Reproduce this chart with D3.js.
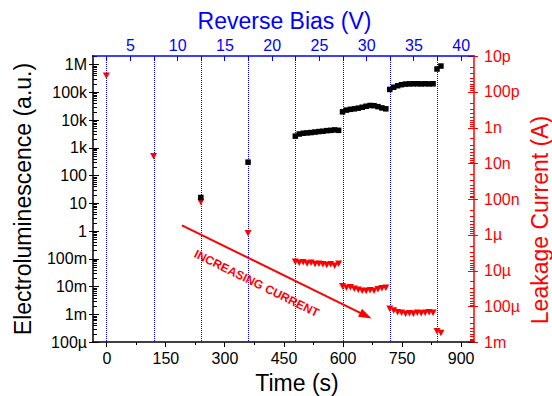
<!DOCTYPE html>
<html lang="en">
<head>
  <meta charset="UTF-8">
  <title>Electroluminescence and leakage current vs time</title>
  <style>
    html, body { margin: 0; padding: 0; background: #fff; }
    svg { display: block; font-family: "Liberation Sans", Arial, sans-serif; }
    .axis line, .axis path { shape-rendering: crispEdges; }
    .tick text { font-family: "Liberation Sans", Arial, sans-serif; font-size: 16px; }
    .title { font-size: 23px; }
  </style>
</head>
<body>
  <script src="https://cdn.jsdelivr.net/npm/d3@7"></script>
  <script>
    const width = 552, height = 396
    const plot = { left: 93, right: 474, top: 56, bottom: 342 }

    // times at which the reverse bias was stepped up (s)
    const stepTimes = [0, 120, 240, 360, 480, 600, 720, 840]

    // electroluminescence, [time (s), a.u.]
    const elData = [
      [240, 16], [360, 300],
      [480, 2600], [490, 3100], [500, 3300], [510, 3400], [520, 3500], [530, 3650],
      [540, 3800], [550, 3900], [560, 4100], [570, 4200], [580, 4350], [590, 4200],
      [600, 19500], [610, 22500], [620, 24000], [630, 25000], [640, 26500], [650, 28500],
      [660, 31000], [670, 33000], [680, 32500], [690, 30000], [700, 27000], [710, 25000],
      [720, 125000], [730, 150000], [740, 170000], [750, 185000], [760, 195000], [770, 198000],
      [780, 200000], [790, 200000], [800, 198000], [810, 200000], [820, 198000], [830, 200000],
      [840, 680000], [850, 870000]
    ]

    // leakage current, [time (s), A]
    const leakData = [
      [0, 3.5e-11], [120, 6.3e-9], [240, 1.2e-7], [360, 9e-7],
      [480, 5.6e-6], [490, 6.0e-6], [500, 5.8e-6], [510, 6.3e-6], [520, 6.0e-6], [530, 6.5e-6],
      [540, 6.4e-6], [550, 6.6e-6], [560, 6.9e-6], [570, 6.6e-6], [580, 7.2e-6], [590, 6.4e-6],
      [600, 2.7e-5], [610, 3.0e-5], [620, 2.9e-5], [630, 3.2e-5], [640, 3.4e-5], [650, 3.6e-5],
      [660, 3.7e-5], [670, 3.5e-5], [680, 3.6e-5], [690, 3.3e-5], [700, 3.1e-5], [710, 3.0e-5],
      [720, 1.15e-4], [730, 1.3e-4], [740, 1.45e-4], [750, 1.5e-4], [760, 1.6e-4], [770, 1.55e-4],
      [780, 1.6e-4], [790, 1.5e-4], [800, 1.55e-4], [810, 1.5e-4], [820, 1.45e-4], [830, 1.5e-4],
      [840, 4.9e-4], [850, 5.5e-4]
    ]

    const timeTicks = [0, 150, 300, 450, 600, 750, 900]
    const timeMinor = [75, 225, 375, 525, 675, 825]
    const biasTicks = [5, 10, 15, 20, 25, 30, 35, 40]
    const biasMinor = [2.5, 7.5, 12.5, 17.5, 22.5, 27.5, 32.5, 37.5]
    const elTicks = [1e-4, 1e-3, 1e-2, 1e-1, 1, 10, 100, 1e3, 1e4, 1e5, 1e6]
    const elLabels = ['100µ', '1m', '10m', '100m', '1', '10', '100', '1k', '10k', '100k', '1M']
    const leakTicks = [1e-11, 1e-10, 1e-9, 1e-8, 1e-7, 1e-6, 1e-5, 1e-4, 1e-3]
    const leakLabels = ['10p', '100p', '1n', '10n', '100n', '1µ', '10µ', '100µ', '1m']

    // annotation arrow, in (time, electroluminescence) coordinates
    const arrowFrom = [192, 1.6]
    const arrowTo = [674, 7e-4]
    const arrowLabel = 'INCREASING CURRENT'

    const BLUE = '#0000ff', RED = '#ff0000'

    const x = d3.scaleLinear().domain([-34, 934]).range([plot.left, plot.right])
    const biasOf = t => 2.5 + t / 24
    const xTop = d3.scaleLinear().domain(x.domain().map(biasOf)).range(x.range())
    const yL = d3.scaleLog().domain([1e-4, 2e6]).range([plot.bottom, plot.top])
    const yR = d3.scaleLog().domain([1e-3, 1e-11]).range([plot.bottom, plot.top])

    const logMinor = scale => {
      const [a, b] = d3.extent(scale.domain())
      const out = []
      for (let e = Math.floor(Math.log10(a)); e <= Math.ceil(Math.log10(b)); e++) {
        for (let m = 2; m <= 9; m++) {
          const v = m * Math.pow(10, e)
          if (v >= a && v <= b) out.push(v)
        }
      }
      return out
    }

    const svg = d3.select('body').append('svg')
      .attr('width', width)
      .attr('height', height)

    // dotted drop lines at each bias step
    svg.append('g')
      .selectAll('line')
      .data(stepTimes)
      .enter()
        .append('line')
        .attr('x1', d => Math.round(x(d)) + 0.5)
        .attr('x2', d => Math.round(x(d)) + 0.5)
        .attr('y1', plot.top)
        .attr('y2', plot.bottom)
        .attr('stroke', BLUE)
        .attr('stroke-width', 1)
        .attr('stroke-dasharray', '1,1')

    // leakage current (down triangles)
    svg.append('g')
      .selectAll('path')
      .data(leakData)
      .enter()
        .append('path')
        .attr('d', 'M-3.5,-3L3.5,-3L0,3.5Z')
        .attr('transform', d => `translate(${x(d[0])},${yR(d[1])})`)
        .attr('fill', RED)

    // electroluminescence (squares)
    const sq = 5.5
    svg.append('g')
      .selectAll('rect')
      .data(elData)
      .enter()
        .append('rect')
        .attr('x', d => x(d[0]) - sq / 2)
        .attr('y', d => yL(d[1]) - sq / 2)
        .attr('width', sq)
        .attr('height', sq)
        .attr('fill', '#000')

    // arrow + label
    const p0 = [x(arrowFrom[0]), yL(arrowFrom[1])]
    const p1 = [x(arrowTo[0]), yL(arrowTo[1])]
    const ang = Math.atan2(p1[1] - p0[1], p1[0] - p0[0])
    const ux = Math.cos(ang), uy = Math.sin(ang)
    const headLen = 13, headHalf = 4.5
    const base = [p1[0] - ux * headLen, p1[1] - uy * headLen]
    svg.append('line')
      .attr('x1', p0[0]).attr('y1', p0[1])
      .attr('x2', base[0] + ux * 2).attr('y2', base[1] + uy * 2)
      .attr('stroke', RED)
      .attr('stroke-width', 2)
    svg.append('path')
      .attr('d', `M${p1[0]},${p1[1]}L${base[0] - uy * headHalf},${base[1] + ux * headHalf}L${base[0] + uy * headHalf},${base[1] - ux * headHalf}Z`)
      .attr('fill', RED)
    const mid = [(p0[0] + p1[0]) / 2, (p0[1] + p1[1]) / 2]
    const tc = [mid[0] - ux * 13 - uy * 19, mid[1] - uy * 13 + ux * 19]
    svg.append('text')
      .attr('transform', `translate(${tc[0]},${tc[1]}) rotate(${ang * 180 / Math.PI})`)
      .attr('text-anchor', 'middle')
      .attr('dy', '0.35em')
      .attr('fill', RED)
      .attr('font-size', 12)
      .attr('font-weight', 'bold')
      .text(arrowLabel)

    const noDomain = g => g.select('.domain').remove()

    // left axis
    svg.append('g').attr('class', 'axis')
      .attr('transform', `translate(${plot.left},0)`)
      .call(d3.axisLeft(yL).tickValues(elTicks).tickFormat((d, i) => elLabels[i]).tickSize(4).tickPadding(2))
      .call(noDomain)
    svg.append('g').attr('class', 'axis')
      .attr('transform', `translate(${plot.left},0)`)
      .call(d3.axisLeft(yL).tickValues(elTicks).tickFormat('').tickSize(-6))
      .call(noDomain)
    svg.append('g').attr('class', 'axis')
      .attr('transform', `translate(${plot.left},0)`)
      .call(d3.axisLeft(yL).tickValues(logMinor(yL)).tickFormat('').tickSize(-4))
      .call(noDomain)

    // right axis
    svg.append('g').attr('class', 'axis')
      .attr('transform', `translate(${plot.right},0)`)
      .attr('color', RED)
      .call(d3.axisRight(yR).tickValues(leakTicks).tickFormat((d, i) => leakLabels[i]).tickSize(4).tickPadding(6))
      .call(noDomain)
    svg.append('g').attr('class', 'axis')
      .attr('transform', `translate(${plot.right},0)`)
      .attr('color', RED)
      .call(d3.axisRight(yR).tickValues(leakTicks).tickFormat('').tickSize(-6))
      .call(noDomain)
    svg.append('g').attr('class', 'axis')
      .attr('transform', `translate(${plot.right},0)`)
      .attr('color', RED)
      .call(d3.axisRight(yR).tickValues(logMinor(yR)).tickFormat('').tickSize(-4))
      .call(noDomain)

    // bottom axis
    svg.append('g').attr('class', 'axis')
      .attr('transform', `translate(0,${plot.bottom})`)
      .call(d3.axisBottom(x).tickValues(timeTicks).tickSize(5).tickPadding(5.5))
      .call(noDomain)
    svg.append('g').attr('class', 'axis')
      .attr('transform', `translate(0,${plot.bottom})`)
      .call(d3.axisBottom(x).tickValues(timeMinor).tickFormat('').tickSize(3))
      .call(noDomain)

    // top axis (reverse bias)
    svg.append('g').attr('class', 'axis')
      .attr('transform', `translate(0,${plot.top})`)
      .attr('color', BLUE)
      .call(d3.axisTop(xTop).tickValues(biasTicks).tickSize(-5).tickPadding(5))
      .call(noDomain)
    svg.append('g').attr('class', 'axis')
      .attr('transform', `translate(0,${plot.top})`)
      .attr('color', BLUE)
      .call(d3.axisTop(xTop).tickValues(biasMinor).tickFormat('').tickSize(-5))
      .call(noDomain)

    // axis lines
    const frame = [
      [plot.left, plot.top, plot.right, plot.top, BLUE],
      [plot.left, plot.bottom, plot.right, plot.bottom, '#000'],
      [plot.left, plot.top, plot.left, plot.bottom, '#000'],
      [plot.right, plot.top, plot.right, plot.bottom, RED]
    ]
    svg.append('g')
      .selectAll('line')
      .data(frame)
      .enter()
        .append('line')
        .attr('x1', d => d[0]).attr('y1', d => d[1])
        .attr('x2', d => d[2]).attr('y2', d => d[3])
        .attr('stroke', d => d[4])
        .attr('stroke-width', 1.5)
        .attr('stroke-linecap', 'square')

    // titles
    svg.append('text').attr('class', 'title')
      .attr('x', (plot.left + plot.right) / 2 + 1)
      .attr('y', 29)
      .attr('text-anchor', 'middle')
      .attr('fill', BLUE)
      .text('Reverse Bias (V)')

    svg.append('text').attr('class', 'title')
      .attr('x', 297)
      .attr('y', 391)
      .attr('text-anchor', 'middle')
      .text('Time (s)')

    svg.append('text').attr('class', 'title')
      .attr('transform', `translate(31,${(plot.top + plot.bottom) / 2}) rotate(-90)`)
      .attr('text-anchor', 'middle')
      .text('Electroluminescence (a.u.)')

    svg.append('text').attr('class', 'title')
      .attr('transform', `translate(548,220) rotate(-90)`)
      .attr('text-anchor', 'middle')
      .attr('fill', RED)
      .text('Leakage Current (A)')
  </script>
</body>
</html>
